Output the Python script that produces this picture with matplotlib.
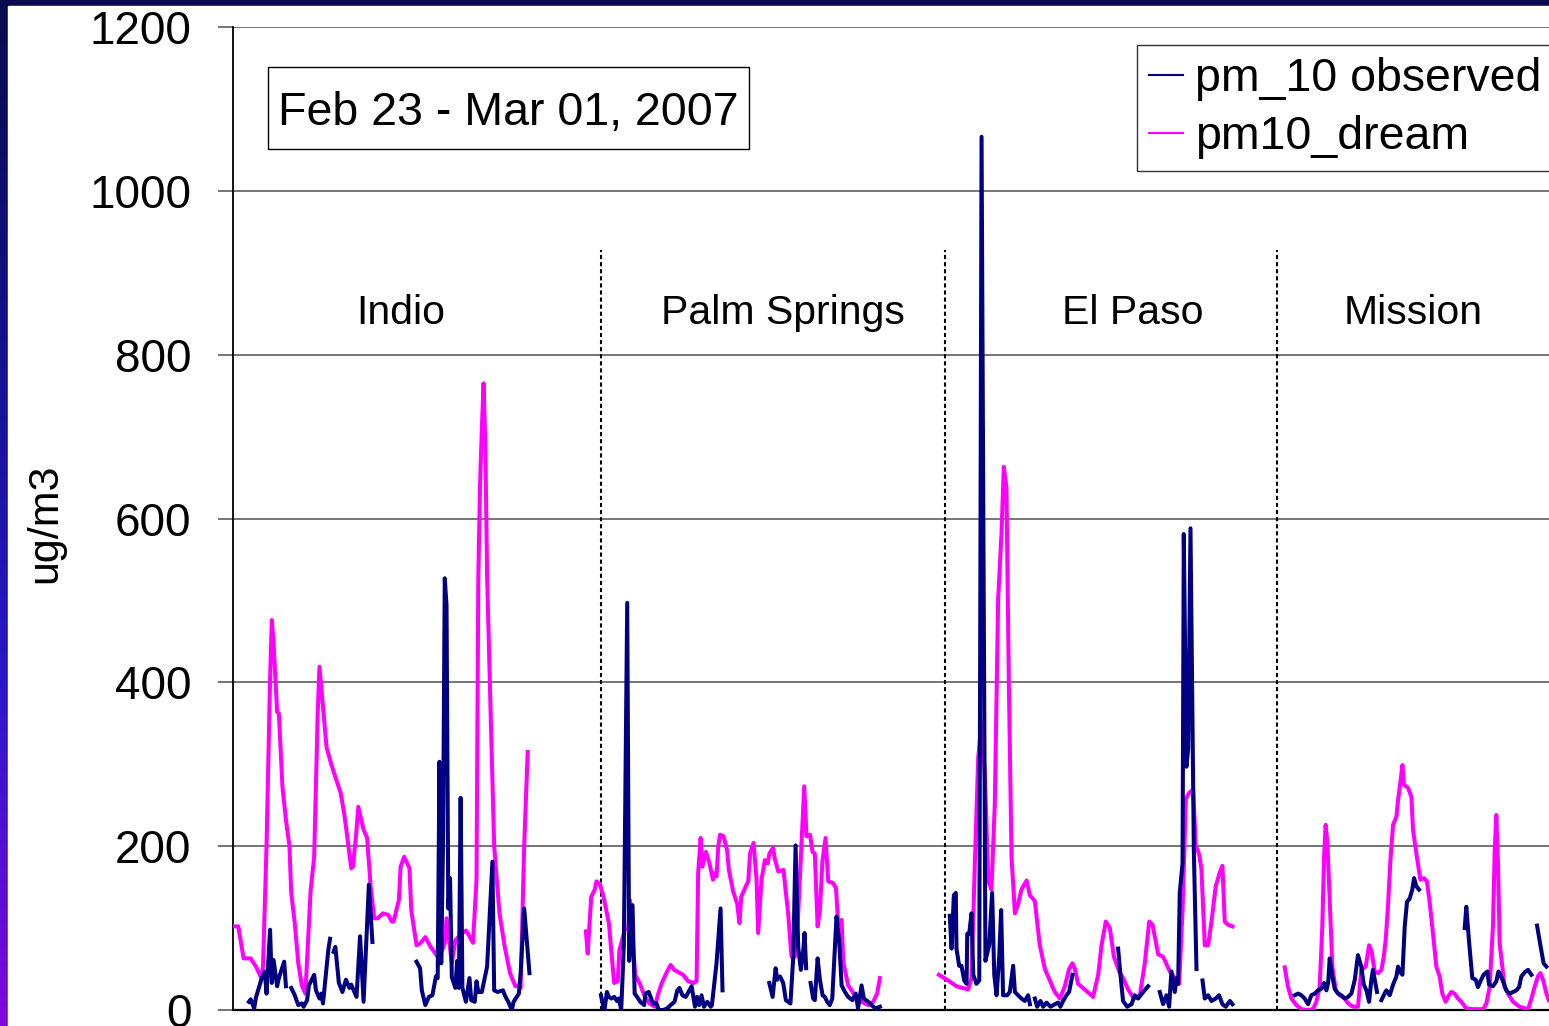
import numpy as np
import matplotlib.pyplot as plt
from matplotlib.colors import LinearSegmentedColormap
from matplotlib.patches import Rectangle

plt.rcParams['font.family'] = ['Liberation Sans', 'DejaVu Sans']

# stations, placed one after the other along an hourly x axis
stations = ['Indio', 'Palm Springs', 'El Paso', 'Mission']
station_start = [0, 200, 400, 596]      # hour offset of each block
dividers = [208.5, 403.4, 591.5]        # dashed separators (hours)
label_x = [95, 311.6, 510, 669]

# hourly PM10 (hour within the week, ug/m3); None = no data
indio_dream_h = [0, 3, 6, 10, 13, 16, 17, 19, 21, 22, 23, 25, 26, 28, 30, 32, 33, 35, 37, 39,
                 41, 44, 46, 48, 49, 51, 53, 55, 57, 61, 63, 64, 67, 68, 70, 71, 74, 76, 78, 80,
                 82, 85, 88, 90, 91, 94, 95, 97, 100, 101, 104, 106, 109, 112, 114, 116, 118, 120,
                 121, 124, 126, 130, 132, 134, 136, 138, 139, 140, 141, 142, 143, 144, 146, 148,
                 151, 154, 157, 160, 162, 163, 165, 167]
indio_dream = [102, 102, 63, 63, 53, 39, 53, 200, 403, 476, 448, 364, 362, 273, 232, 200, 143, 106, 57, 30,
               20, 146, 187, 362, 419, 370, 321, 305, 291, 265, 240, 224, 173, 175, 220, 248, 220, 210, 151, 112,
               112, 118, 116, 108, 108, 134, 175, 187, 173, 122, 79, 81, 89, 77, 71, 65, 70, 82,
               112, 57, 85, 94, 97, 90, 82, 159, 525, 641, 708, 765, 690, 530, 362, 200,
               118, 77, 45, 29, 30, 27, 200, 315]
indio_obs_h = [9, 10, 12, 13, 16, 18, 19, 21, 22, 23, 25, 26, 29, 30, None, 33, 35, 37, 39, 40, 42, 43,
               46, 47, 49, 50, 51, 54, 55, None, 57, 58, 60, 62, 64, 66, 67, 70, 72, 74, 77, 79, None,
               104, 106, 107, 109, 111, 113, 115, 116, 117, 118, 119, 120, 121, 122, 123, 124, 126,
               127, 128, 129, 130, 132, 134, 135, 137, 138, 139, 141, 144, 147, 148, 150, 153, 154,
               156, 158, 159, 162, 163, 165, 168]
indio_obs = [10, 13, 2, 15, 37, 47, 20, 98, 33, 61, 29, 39, 59, 29, None, 27, 18, 6, 8, 4, 12, 30,
             43, 24, 14, 20, 8, 73, 87, None, 71, 77, 33, 22, 37, 27, 31, 16, 90, 10, 153, 83, None,
             59, 51, 24, 6, 16, 18, 41, 39, 303, 57, 200, 527, 494, 124, 161, 40, 27,
             60, 27, 259, 27, 10, 39, 12, 10, 35, 22, 22, 53, 181, 24, 22, 24, 18,
             10, 0, 10, 20, 45, 124, 45]

ps_dream_h = [0, 1, 3, 5, 6, 8, 10, 13, 15, 16, 18, 19, 20, 22, 24, 25, 26, 28, 31, 33, 36, 39, 41, 43,
              46, 48, 50, 55, 58, 61, 62.7, 63.6, 65, 66, 68, 70, 72, 73, 74, 75, 76, 78, 80, 81,
              83.5, 85.7, 87, 88, 91, 92, 93, 95, 96.7, 97.6, 99.5, 101.4, 103, 104, 106, 107, 109,
              112, 113, 114.6, 116.5, 118.4, 120.3, 122.2, 123.7, 125, 127, 128.4, 129.7, 131.3,
              132.6, 134, 135.8, 137.3, 140, 141.7, 143, 144.9, 145.8, 148.6, 152.4, 156.2, 160,
              162.8, 165, 166.6]
ps_dream = [96, 69, 138, 147, 157, 153, 138, 106, 57, 33, 35, 73, 81, 98, 100, 134, 94, 43, 30, 18, 8, 4, 20, 33,
            47, 55, 49, 43, 35, 33, 35, 167, 210, 175, 193, 179, 159, 167, 163, 200, 214, 212, 195, 171,
            144, 130, 106, 138, 153, 157, 191, 204, 159, 94, 159, 183, 179, 191, 198, 185, 169,
            171, 149, 118, 65, 65, 118, 204, 273, 212, 214, 193, 191, 102,
            122, 181, 210, 157, 155, 149, 104, 110, 59, 30, 18, 10, 6,
            10, 20, 39]
ps_obs_h = [8.5, 9.5, 10.5, 11.9, 13, 14.5, 16, 17.6, 18.7, 20, 21.5, 23.4, 24.5, 26.4, 27.6, 29, 30.8,
            33, 33.7, 35.6, 38, 40, 41.3, 43.8, 46.2, 48, 50.2, 51.8, 53, 54.7, 56.6, 59.9, 61.8, 63,
            64.2, 65.5, 66.9, 68.8, 70.7, 71.4, 74, 76.3, 77.4, None,
            103.9, 105.8, 107.5, 108.4, 110, 111.8, 113.3, 115.9, 117.5, 118.8, 120.3, 121.8, 123.1,
            123.9, 124.8, None, 127.3, 128.8, 129.7, 131.3, 132.6, 134.1, 135.4, 136.7, 138.2, 139.6,
            142, 143.5, 144.9, 146.8, 148.6, 151, 152.9, 154.2, 156.2, 157.5, 160, 161.8, 164.1, 166.6]
ps_obs = [18, 8, 0, 22, 16, 14, 16, 11, 14, 0, 80, 497, 60, 128, 20, 16, 10,
          6, 20, 22, 8, 8, 0, 0, 2, 6, 10, 24, 27, 18, 16, 29, 4, 16,
          6, 18, 4, 10, 4, 6, 57, 124, 24, None,
          33, 16, 51, 37, 41, 33, 12, 8, 65, 201, 77, 49, 71,
          94, 51, None, 33, 14, 12, 63, 37, 18, 16, 10, 6, 14,
          114, 85, 30, 22, 16, 12, 20, 2, 30, 14, 10, 6, 2, 4]

ep_dream_h = [0, 5.3, 10, 16.6, 18.5, 20.4, 22.3, 24.2, 26.1, 28, 29.8, 31.7, 33.6, 35.5, 36.8, 38.3,
              39.7, 41.2, 43.1, 44.9, 46.8, 49.7, 51.6, 54.4, 57.2, 60.1, 62.9, 65.7, 68.6, 71.4,
              73.8, 75.7, 77.1, 78.9, 82.7, 87.4, 90.3, 92.2, 94.6, 96.9, 99.2, 102.2, 104.4, 107.3,
              110.5, 113.9, 116.7, 119.2, 121.1, 124.3, 127.1, 130.9, 133.7, 136.2, 138.1, 140,
              141.8, 144.1, 145.6, 147.5, 148.8, 150.7, 152.6, 154.5, 156.9, 159.2, 160.7, 162,
              163.9, 166.4]
ep_dream = [43, 36, 29, 25, 39, 179, 308, 351, 287, 158, 147, 251, 502, 581, 663, 638,
            394, 186, 118, 129, 147, 158, 140, 133, 79, 50, 36, 22, 14, 29,
            50, 57, 50, 32, 25, 16, 43, 79, 108, 100, 65, 47, 39, 25,
            14, 18, 57, 108, 104, 68, 65, 47, 39, 32, 122, 258,
            265, 269, 201, 190, 172, 79, 79, 108, 151, 168, 176, 108,
            104, 102]
ep_obs_h = [6.2, 7.2, 8.5, 9.6, 10, 11.5, 12.8, 14.4, 15.7, 16.1, 17.2, 18.5, 19.5, 21.3, 22.9, 24.2,
            26.4, 28.5, 30.2, 31.4, 32.7, 34.2, 35.3, 36.4, 38.7, 40.2, 42.1, 43.1, 44.9, 46.8, 48.7,
            50.6, 51.6, None, 54.4, 55.7, 57.6, 59.1, 61, 63.3, 65.7, 67.6, 68.9, 70.4, 72.3, 73.8,
            75.7, None, 101.6, 102.9, 104.4, 106.7, 109.2, 111, 112.9, 115.8, 118.6, None,
            125.2, 127.1, 129, 130.5, 131.8, 133.7, 134.7, 135.6, 136.5, 138.1, 138.8, 140.3, 141.3,
            142.6, 144.5, 146, None, 149.4, 150.7, 152.6, 154.5, 156.9, 158.8, 160.7, 162.6, 164.9,
            166.4]
ep_obs = [115, 75, 140, 143, 75, 54, 54, 36, 32, 93, 93, 118, 43, 32, 36, 1066,
          60, 79, 143, 43, 18, 65, 122, 18, 18, 22, 54, 22, 18, 14, 11,
          18, 7, None, 14, 4, 11, 4, 9, 4, 7, 9, 4, 11, 18, 22,
          43, None, 75, 43, 11, 4, 7, 18, 14, 22, 29, None,
          22, 7, 18, 4, 47, 22, 39, 32, 143, 179, 581, 297, 319,
          588, 194, 50, None, 36, 14, 18, 11, 14, 18, 7, 4, 11,
          7]

mi_dream_h = [0, 1.9, 3.8, 6.6, 9.4, 13.2, 16, 17.9, 19.8, 21.3, 22.3, 23.2, 24.2, 25.5, 27, 28.9,
              31.2, 34, 35.9, 38.7, 41.5, 43.4, 45.9, 47.8, 49.1, 51, 52.9, 54.8, 56.1, 57.2, 58.5,
              59.9, 61.4, 63.3, 64.2, 65.5, 66.7, 67.6, 69.9, 71.8, 72.7, 74.6, 76.9, 78.8, 80.6,
              82.2, 84, 85.9, 87.8, 89.3, 91.2, 92.5, 94.4, 96.3, 98.2, 100.1, 102.9, 106.7, 112.4,
              114.3, 116.1, 118, 119, 119.9, 120.9, 121.8, 123.3, 124.6, 126.5, 129.4, 133.1, 137.9,
              139.8, 141.6, 143.5, 144.9, 146.4, 148.3, 149.6]
mi_dream = [52, 28, 14, 6, 1, 0, 1, 10, 28, 102, 187, 226, 204, 134, 53, 24,
            18, 14, 8, 4, 4, 49, 53, 79, 73, 47, 45, 49, 65, 85, 126,
            183, 226, 236, 256, 277, 299, 275, 271, 260, 220, 191, 159, 161, 157,
            130, 94, 53, 41, 20, 10, 16, 22, 20, 14, 10, 2, 1, 1,
            8, 28, 102, 195, 238, 175, 81, 53, 28, 20, 10, 4, 1,
            14, 28, 41, 45, 37, 20, 12]
mi_obs_h = [5.7, 7.6, 9.4, 11.3, 13.2, 15.1, 17, 18.9, 20.8, 22.3, 23.6, 24.6, 25.5, 27, 28.3, 30.2,
            32.1, 34, 35.9, 37.8, 39.7, 41.5, 43.4, 44.8, 46.3, 47.8, 49.1, 50, 51, 52.3, None,
            54.8, 56.1, 57.6, 59.5, 61.4, 63.3, 64.2, 65.2, 66.7, 68, 69.3, 70.8, 72.3, 73.3, 74.6,
            76.1, None, 102, 102.9, 104.4, 106.3, 108.2, 109.5, 110.9, 112.7, 114.8, 115.8, 118,
            119.9, 121.1, 122.2, 123.7, 125.6, 127.5, 129.4, 131.3, 132.8, 134.1, 136, 137.9, 139.8,
            None, 143, 144.9, 146.7, 148.3]
mi_obs = [18, 20, 18, 14, 7, 18, 20, 24, 26, 33, 24, 33, 63, 41, 26, 20,
          18, 14, 16, 20, 37, 67, 53, 31, 24, 10, 37, 49, 37, 22, None,
          12, 18, 24, 18, 31, 41, 53, 47, 43, 102, 132, 136, 147, 161, 151,
          147, None, 100, 126, 85, 39, 37, 28, 35, 43, 47, 31, 29,
          35, 47, 43, 35, 24, 20, 22, 24, 28, 41, 46, 49, 43,
          None, 103, 79, 57, 53]

dream_h = [indio_dream_h, ps_dream_h, ep_dream_h, mi_dream_h]
dream_v = [indio_dream, ps_dream, ep_dream, mi_dream]
obs_h = [indio_obs_h, ps_obs_h, ep_obs_h, mi_obs_h]
obs_v = [indio_obs, ps_obs, ep_obs, mi_obs]

W, H = 1549, 1026
fig = plt.figure(figsize=(W / 100, H / 100), dpi=100)

# slide background: dark blue to violet strip on the left and top
bg = fig.add_axes([0, 0, 1, 1])
cmap = LinearSegmentedColormap.from_list('slide', ['#0a0a4e', '#12128c', '#2a18c8', '#7e08d8'])
bg.imshow(np.linspace(0, 1, 256).reshape(-1, 1), cmap=cmap, aspect='auto',
          extent=[0, 1, 0, 1], origin='upper')
bg.add_patch(Rectangle((8 / W, 0), 1, 1 - 6 / H, color='white'))
bg.set_xlim(0, 1)
bg.set_ylim(0, 1)
bg.axis('off')

ax = fig.add_axes([233 / W, 16 / H, 1387 / W, 983 / H])
ax.set_facecolor('white')

for i in range(4):
    s = station_start[i]
    h = np.array(dream_h[i], dtype=float) + s
    ax.plot(h, np.array(dream_v[i], dtype=float), color='#ff00ff', lw=2.9,
            label='pm10_dream' if i == 0 else None, zorder=3)
for i in range(4):
    s = station_start[i]
    h = np.array(obs_h[i], dtype=float) + s
    ax.plot(h, np.array(obs_v[i], dtype=float), color='#000080', lw=2.9,
            label='pm_10 observed' if i == 0 else None, zorder=4)

ax.vlines(dividers, 0, 928, colors='black', linestyles=(0, (2, 1.4)), lw=1.5, zorder=2)

for name, x in zip(stations, label_x):
    ax.text(x, 837, name, ha='center', va='baseline', fontsize=29.5)

ax.set_xlim(0, 786)
ax.set_ylim(0, 1200)
ax.set_yticks(range(0, 1201, 200))
ax.set_xticks([])
ax.grid(axis='y', color='#505050', lw=1.1)
ax.set_axisbelow(True)
ax.tick_params(axis='y', direction='out', length=11, width=1.1, color='#505050',
               labelsize=33, pad=19)
for side in ['top', 'right']:
    ax.spines[side].set_visible(False)
ax.spines['left'].set_linewidth(1.3)
ax.spines['bottom'].set_linewidth(1.6)

fig.text(45 / W, 1 - 523 / H, 'ug/m3', rotation=90, ha='center', va='center', fontsize=31)

# date box
fig.patches.append(Rectangle((268 / W, 1 - 149 / H), 481 / W, 82 / H, transform=fig.transFigure,
                             fill=False, edgecolor='black', lw=1.0, zorder=5))
fig.text(508 / W, 1 - 125 / H, 'Feb 23 - Mar 01, 2007', ha='center', va='baseline', fontsize=33.5)

handles, labels = ax.get_legend_handles_labels()
order = [1, 0]
leg = ax.legend([handles[k] for k in order], [labels[k] for k in order],
                loc='upper left', bbox_to_anchor=(1137 / W, 1 - 45 / H),
                bbox_transform=fig.transFigure, borderaxespad=0, fontsize=33.5,
                frameon=True, fancybox=False, borderpad=0.26, labelspacing=0.3,
                handlelength=0.72, handletextpad=0.27)
leg.get_frame().set_edgecolor('black')
leg.get_frame().set_linewidth(1.0)
for line in leg.get_lines():
    line.set_linewidth(1.5)

fig.savefig('out.png', dpi=100)
